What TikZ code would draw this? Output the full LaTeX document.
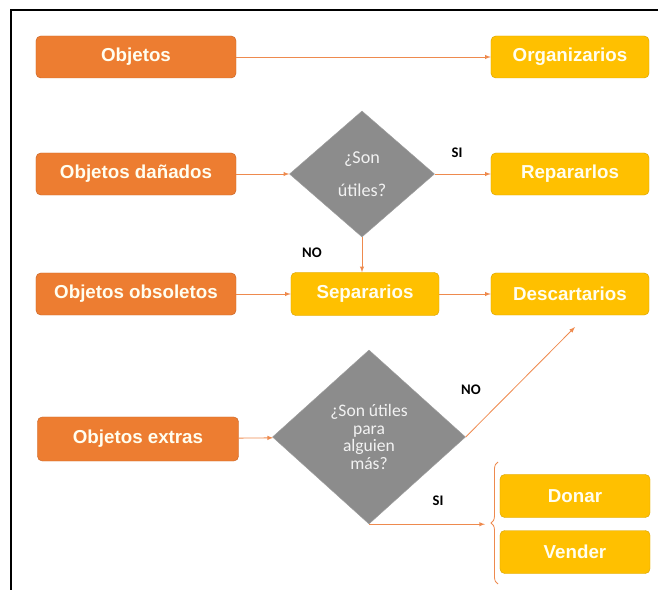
\documentclass[tikz,border=0pt]{standalone}
\usepackage{fontspec}
\setmainfont{Liberation Sans}
\newfontfamily\calib{Carlito}
\usetikzlibrary{arrows}
\usetikzlibrary{shapes.geometric}
\usetikzlibrary{decorations.pathreplacing}
\definecolor{boxorange}{HTML}{ED7D31}
\definecolor{edgeorange}{HTML}{C9672A}
\definecolor{boxyellow}{HTML}{FFC000}
\definecolor{edgeyellow}{HTML}{D9A400}
\definecolor{askgray}{HTML}{8C8C8C}
\definecolor{linkorange}{HTML}{EE8A4E}
\tikzset{
  objbox/.style={rectangle, rounded corners=4pt, fill=boxorange, draw=edgeorange,
    minimum width=6cm, minimum height=1.26cm, text=white!94!yellow,
    font=\fontsize{16}{18}\selectfont\bfseries},
  actbox/.style={rectangle, rounded corners=4pt, fill=boxyellow, draw=edgeyellow,
    minimum width=4.74cm, minimum height=1.26cm, text=white!94!yellow,
    font=\fontsize{16}{18}\selectfont\bfseries},
  askbox/.style={diamond, fill=askgray, draw=askgray!85!white, inner sep=0pt,
    text=white!95!black, align=center},
  answer/.style={font=\calib\fontsize{12.5}{14}\selectfont\bfseries},
  link/.style={draw=linkorange, line width=0.7pt, arrows={-latex}}
}

\begin{document}
\begin{tikzpicture}[x=0.03cm, y=-0.03cm]
        % Page size and frame
        \useasboundingbox (0,0) rectangle (658,590);
        \draw[line width=1.7pt] (11,590) -- (11,10) -- (658,10);
        % Objects on the left
        \node[objbox] (objetos) at (136,57) {Objetos};
        \node[objbox] (danados) at (136,174) {Objetos dañados};
        \node[objbox] (obsoletos) at (136,294) {Objetos obsoletos};
        \node[objbox, minimum width=6.03cm, minimum height=1.32cm] (extras) at (138,439) {Objetos extras};
        % Questions
        \node[askbox, minimum width=4.35cm, minimum height=3.78cm,
          font=\calib\fontsize{15.5}{28}\selectfont] (utiles) at (362,174) {¿Son\\útiles?};
        \node[askbox, minimum width=5.79cm, minimum height=5.22cm,
          font=\calib\fontsize{15}{15}\selectfont] (alguien) at (369,437) {¿Son útiles\\para\\alguien\\más?};
        % Actions on the right
        \node[actbox] (organizar) at (570,57) {Organizarios};
        \node[actbox] (reparar) at (570,174) {Repararlos};
        \node[actbox, minimum width=4.44cm, minimum height=1.29cm] (separar) at (365,294) {Separarios};
        \node[actbox] (descartar) at (570,294) {Descartarios};
        \node[actbox, minimum width=4.5cm, minimum height=1.29cm] (donar) at (575,496) {Donar};
        \node[actbox, minimum width=4.5cm, minimum height=1.29cm] (vender) at (575,552) {Vender};
        % Brace round the last two actions
        \coordinate (bracetip) at (485,523);
        \coordinate (nofree) at (575,327);
        \draw[draw=linkorange, line width=0.7pt, decorate, decoration={brace, amplitude=6pt}]
          (498,584) -- (498,462);
        % Connectors
        \draw[link] (objetos) -- (organizar);
        \draw[link] (danados) -- (utiles);
        \draw[link] (utiles) -- (reparar);
        \draw[link] (utiles.south) -- (utiles.south |- separar.north);
        \draw[link] (obsoletos) -- (separar);
        \draw[link] (separar) -- (descartar);
        \draw[link] (extras) -- (alguien);
        \draw[link] (alguien.east) -- (nofree);
        \draw[link] (alguien.south) -- (alguien.south -| bracetip);
        % Answers
        \node[answer] (si1) at (457,153) {SI};
        \node[answer] (no1) at (312,253) {NO};
        \node[answer] (no2) at (471,390) {NO};
        \node[answer] (si2) at (438,501) {SI};
      \end{tikzpicture}
\end{document}
